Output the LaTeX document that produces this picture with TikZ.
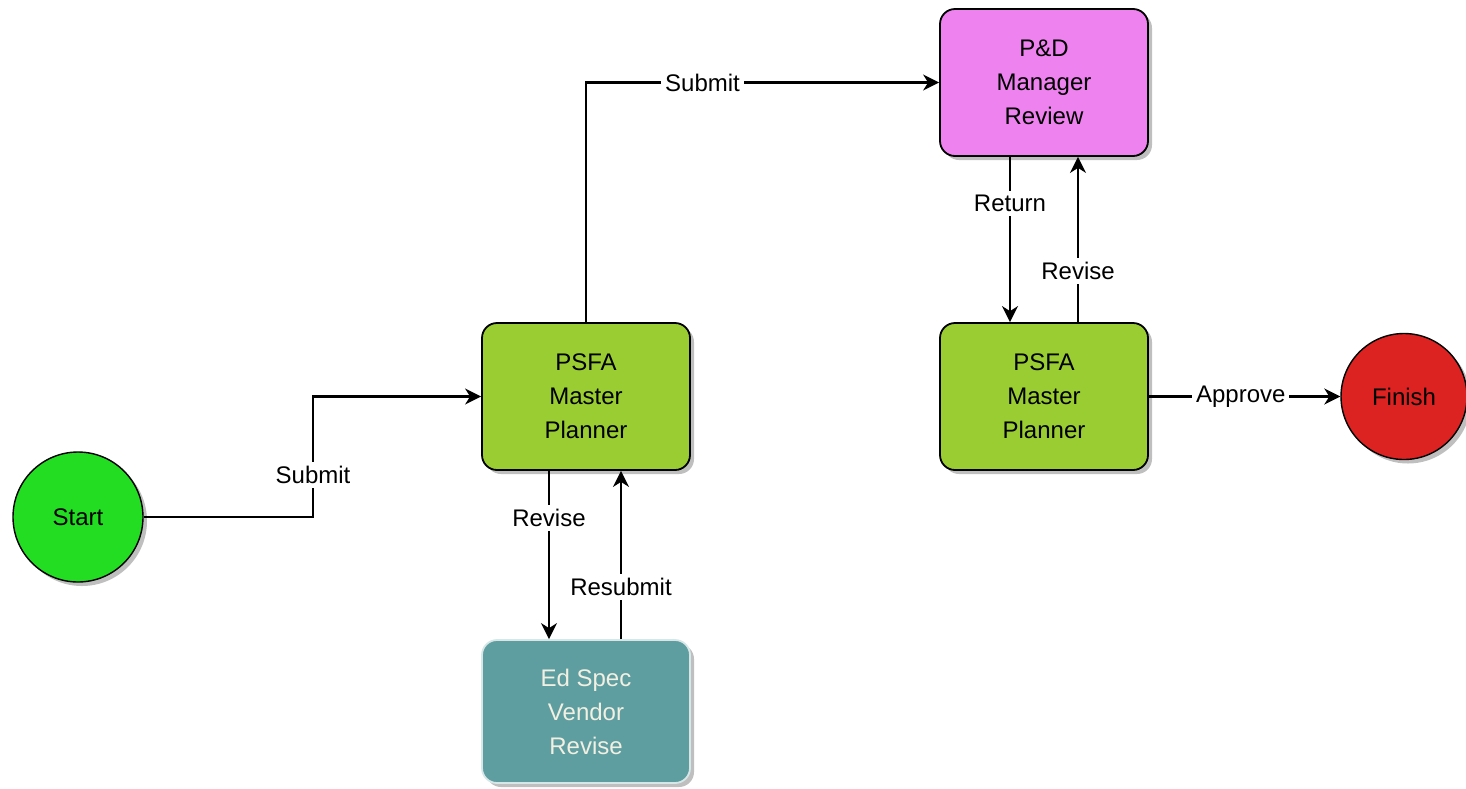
\documentclass[tikz,border=0pt]{standalone}
\usepackage{fontspec}
\setmainfont{Liberation Sans}
\usetikzlibrary{arrows.meta,shadows,calc}
\definecolor{cstart}{RGB}{34,221,34}
\definecolor{cplan}{RGB}{154,205,50}
\definecolor{cvend}{RGB}{95,158,160}
\definecolor{cpd}{RGB}{238,130,238}
\definecolor{cfin}{RGB}{221,34,34}
\definecolor{cvtext}{RGB}{242,240,226}
\tikzset{
  shd/.style={drop shadow={shadow xshift=2pt,shadow yshift=-2pt,fill=black,opacity=0.25}},
  box/.style={draw=black,line width=0.9pt,rounded corners=7.5pt,minimum width=104pt,minimum height=73.5pt,align=center,inner sep=0pt,font=\fontsize{12}{17}\selectfont,shd},
  term/.style={draw=black,line width=0.7pt,circle,inner sep=0pt,font=\fontsize{12}{17}\selectfont,shd},
  arr/.style={draw=black,line width=1.1pt,-{Stealth[length=8pt,width=8pt,inset=2.5pt]}},
  lab/.style={fill=white,inner sep=2pt,font=\fontsize{12}{14}\selectfont}
}
\begin{document}
\begin{tikzpicture}[x=0.5pt,y=-0.5pt]
\useasboundingbox (0,0) rectangle (1466,788);
\node[term,fill=cstart,minimum size=65pt] (start) at (78,517) {Start};
\node[box,fill=cplan] (p1) at (586,396.5) {PSFA\\Master\\Planner};
\node[box,fill=cvend,draw=cvend!25,text=cvtext,minimum height=71.5pt] (es) at (586,711.5) {Ed Spec\\Vendor\\Revise};
\node[box,fill=cpd] (pd) at (1044,82.5) {P\&D\\Manager\\Review};
\node[box,fill=cplan] (p2) at (1044,396.5) {PSFA\\Master\\Planner};
\node[term,fill=cfin,minimum size=63pt] (fin) at (1404,396.5) {Finish};
\coordinate (b1) at (313,0);
\coordinate (xl) at (549,0);
\coordinate (xr) at (621,0);
\coordinate (xl2) at (1010,0);
\coordinate (xr2) at (1078,0);
\draw[arr] (start.east) -- (start.east -| b1) -- node[lab,pos=0.35]{Submit} (b1 |- p1.west) -- (p1.west);
\draw[arr] (p1.north) -- (p1.north |- pd.west) -- node[lab,pos=0.33]{Submit} (pd.west);
\draw[arr] (p1.south -| xl) -- node[lab,pos=0.28]{Revise} (es.north -| xl);
\draw[arr] (es.north -| xr) -- node[lab,pos=0.31]{Resubmit} (p1.south -| xr);
\draw[arr] (pd.south -| xl2) -- node[lab,pos=0.28]{Return} (p2.north -| xl2);
\draw[arr] (p2.north -| xr2) -- node[lab,pos=0.31]{Revise} (pd.south -| xr2);
\draw[arr] (p2.east) -- node[lab,pos=0.48]{Approve} (fin.west);
\end{tikzpicture}
\end{document}
